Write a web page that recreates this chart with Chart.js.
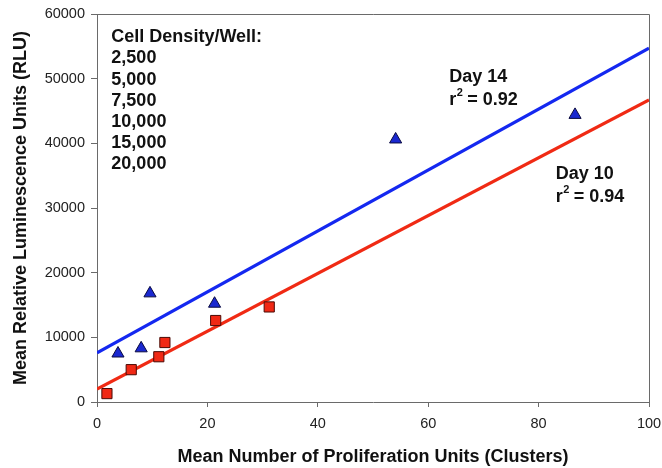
<!DOCTYPE html>
<html>
<head>
<meta charset="utf-8">
<script src="https://cdn.jsdelivr.net/npm/chart.js@4/dist/chart.umd.min.js"></script>
<style>
  html, body { margin: 0; padding: 0; background: #fff; }
  #wrap { width: 662px; height: 468px; position: relative; }
</style>
</head>
<body>
<div id="wrap"><canvas id="chart"></canvas></div>
<script>
// Clusters vs. luminescence, one series per culture day
const day14Clusters = [3.8, 8.0, 9.6, 21.3, 54.1, 86.6];
const day14Rlu = [7500, 8300, 16800, 15200, 40600, 44400];
const day10Clusters = [1.8, 6.2, 11.2, 12.3, 21.5, 31.2];
const day10Rlu = [1300, 5000, 7000, 9200, 12600, 14700];

// linear fit end points
const fitClusters = [0, 100];
const day14Fit = [7600, 54700];
const day10Fit = [2000, 46700];

const densityLabels = ['2,500', '5,000', '7,500', '10,000', '15,000', '20,000'];
const xTicks = [0, 20, 40, 60, 80, 100];
const yTicks = [0, 10000, 20000, 30000, 40000, 50000, 60000];

const BLUE = '#1428f0';
const RED = '#f02a14';
const AXIS = '#6a6a6a';
const FONT = '"Liberation Sans", Arial, sans-serif';

function toPoints(xs, ys) {
  return xs.map((x, i) => ({ x, y: ys[i] }));
}

// frame around the plot area plus the text notes
const notesPlugin = {
  id: 'notes',
  afterDraw(chart) {
    const { ctx, chartArea, scales } = chart;
    ctx.save();
    ctx.strokeStyle = AXIS;
    ctx.lineWidth = 1;
    ctx.beginPath();
    ctx.moveTo(chartArea.left, chartArea.top + 0.5);
    ctx.lineTo(chartArea.right + 0.5, chartArea.top + 0.5);
    ctx.lineTo(chartArea.right + 0.5, chartArea.bottom);
    ctx.stroke();

    ctx.fillStyle = '#111';
    ctx.textBaseline = 'middle';
    ctx.textAlign = 'left';
    ctx.font = 'bold 18px ' + FONT;

    const x = scales.x;
    const y = scales.y;
    const lx = x.getPixelForValue(2.6);
    let ly = y.getPixelForValue(56400);
    ctx.fillText('Cell Density/Well:', lx, ly);
    densityLabels.forEach(label => {
      ly += 21.2;
      ctx.fillText(label, lx, ly);
    });

    function fitNote(day, r2, vx, vy) {
      const px = x.getPixelForValue(vx);
      const py = y.getPixelForValue(vy);
      ctx.font = 'bold 18px ' + FONT;
      ctx.fillText(day, px, py);
      ctx.fillText('r', px, py + 23.5);
      const rw = ctx.measureText('r').width;
      ctx.fillText(' = ' + r2, px + rw + 6, py + 23.5);
      ctx.font = 'bold 11px ' + FONT;
      ctx.fillText('2', px + rw + 0.5, py + 16);
    }
    fitNote('Day 14', '0.92', 63.8, 50300);
    fitNote('Day 10', '0.94', 83.1, 35300);
    ctx.restore();
  }
};

new Chart(document.getElementById('chart'), {
  type: 'scatter',
  data: {
    datasets: [
      {
        label: 'Day 14 fit',
        data: toPoints(fitClusters, day14Fit),
        showLine: true,
        borderColor: BLUE,
        borderWidth: 3.2,
        pointRadius: 0,
        order: 2
      },
      {
        label: 'Day 10 fit',
        data: toPoints(fitClusters, day10Fit),
        showLine: true,
        borderColor: RED,
        borderWidth: 3.2,
        pointRadius: 0,
        order: 2
      },
      {
        label: 'Day 14',
        data: toPoints(day14Clusters, day14Rlu),
        pointStyle: 'triangle',
        pointRadius: 7,
        backgroundColor: '#1a28d0',
        borderColor: '#0a0a40',
        borderWidth: 1,
        order: 1
      },
      {
        label: 'Day 10',
        data: toPoints(day10Clusters, day10Rlu),
        pointStyle: 'rect',
        pointRadius: 7.2,
        backgroundColor: '#f02814',
        borderColor: '#4a0a05',
        borderWidth: 1,
        order: 1
      }
    ]
  },
  options: {
    responsive: true,
    maintainAspectRatio: false,
    animation: false,
    layout: { padding: { left: 0, right: 13, top: 14, bottom: 0 } },
    plugins: {
      legend: { display: false },
      tooltip: { enabled: false }
    },
    scales: {
      x: {
        type: 'linear',
        min: 0,
        max: 100,
        afterBuildTicks(scale) {
          scale.ticks = xTicks.map(value => ({ value }));
        },
        afterFit(scale) {
          scale.height = 66;
          scale.paddingLeft = 0;
          scale.paddingRight = 0;
        },
        grid: { drawOnChartArea: false, drawTicks: true, tickLength: 5, color: AXIS },
        border: { display: true, color: AXIS, width: 1 },
        ticks: { color: '#222', font: { family: FONT, size: 14.5 }, padding: 8, maxRotation: 0 },
        title: {
          display: true,
          text: 'Mean Number of Proliferation Units (Clusters)',
          color: '#111',
          font: { family: FONT, size: 18, weight: 'bold' },
          padding: { top: 8, bottom: 0 }
        }
      },
      y: {
        type: 'linear',
        min: 0,
        max: 60000,
        afterBuildTicks(scale) {
          scale.ticks = yTicks.map(value => ({ value }));
        },
        afterFit(scale) {
          scale.width = 97;
          scale.paddingTop = 0;
          scale.paddingBottom = 0;
        },
        grid: { drawOnChartArea: false, drawTicks: true, tickLength: 6, color: AXIS },
        border: { display: true, color: AXIS, width: 1 },
        ticks: {
          color: '#222',
          font: { family: FONT, size: 14.5 },
          padding: 6,
          callback: value => String(value)
        },
        title: {
          display: true,
          text: 'Mean Relative Luminescence Units (RLU)',
          color: '#111',
          font: { family: FONT, size: 18, weight: 'bold' },
          padding: { top: 10, bottom: 4 }
        }
      }
    }
  },
  plugins: [notesPlugin]
});
</script>
</body>
</html>
